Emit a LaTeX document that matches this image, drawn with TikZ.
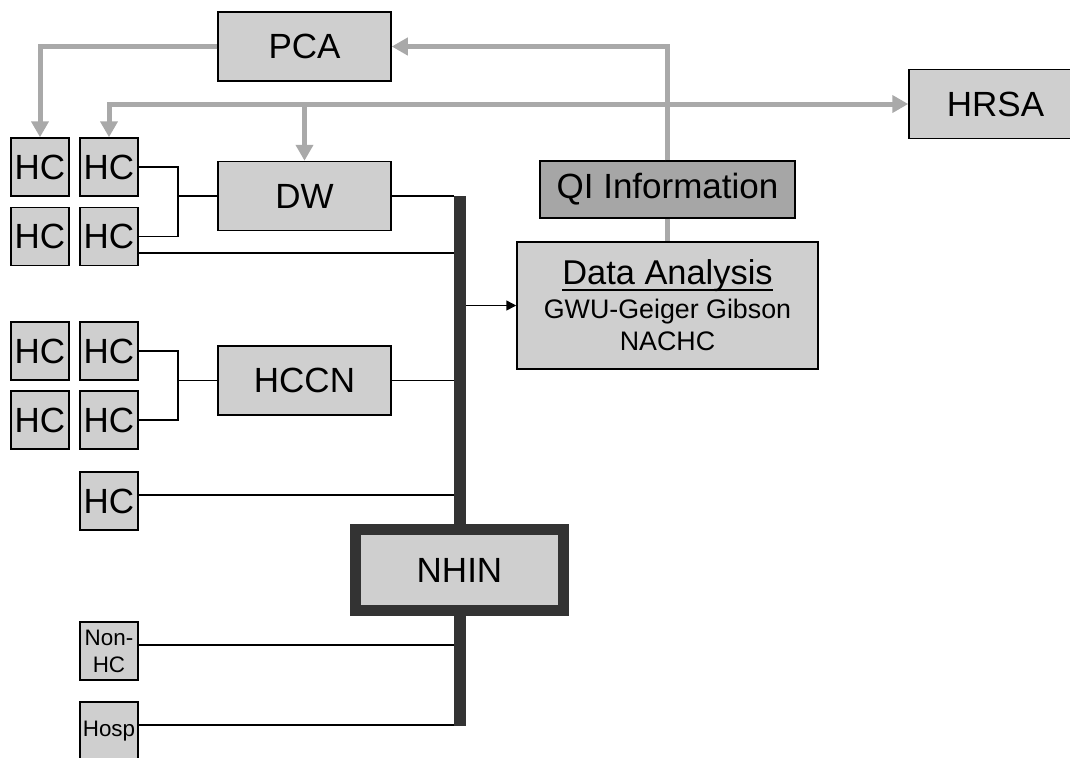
\documentclass[tikz,border=0pt]{standalone}
\usepackage{fontspec}
\setmainfont{Liberation Sans}
\usetikzlibrary{arrows.meta}
\definecolor{boxgray}{HTML}{CFCFCF}
\definecolor{qigray}{HTML}{A6A6A6}
\definecolor{linkgray}{HTML}{A9A9A9}
\definecolor{busgray}{HTML}{333333}
\newcommand\ulined[1]{\setbox0\hbox{#1}\rlap{\rule[-3pt]{\wd0}{0.75pt}}\box0}
\begin{document}
\begin{tikzpicture}[x=0.5pt, y=-0.5pt, >={Triangle[length=8pt,width=8.5pt]},
    box/.style={draw, line width=0.75pt, fill=boxgray, inner sep=0pt, font=\fontsize{17.5}{21}\selectfont},
    hc/.style={box, minimum width=29pt, minimum height=29pt},
    wide/.style={box, minimum width=86.5pt, minimum height=34.5pt},
    small/.style={box, minimum width=29pt, minimum height=29pt, align=center, font=\fontsize{11.2}{13.5}\selectfont},
    glink/.style={draw=linkgray, line width=2.5pt},
    link/.style={draw, line width=0.75pt}]
  \useasboundingbox (0,0) rectangle (1070,757);
  \clip (0,0) rectangle (1070,757);
  \node[wide] (pca) at (304.5,46.5) {PCA};
  \node[wide] (dw) at (304.5,196) {DW};
  \node[wide] (hccn) at (304.5,380.5) {HCCN};
  \node[wide] (hrsa) at (995.5,104) {HRSA};
  \node[box, fill=qigray, minimum width=127.5pt, minimum height=28.5pt] (qi) at (667.5,189.5) {QI Information};
  \node[box, minimum width=150.5pt, minimum height=63.5pt, align=center, font=\fontsize{13.4}{16}\selectfont] (da) at (667.5,305.5)
    {{\fontsize{17.2}{19}\selectfont\ulined{Data Analysis}}\\[1pt]GWU-Geiger Gibson\\NACHC};
  \foreach \n/\x/\y in {hca/40/167, hcb/109/167, hcc/40/236.5, hcd/109/236.5, hce/40/351,
      hcf/109/351, hcg/40/420, hch/109/420, hci/109/501}
    \node[hc] (\n) at (\x,\y) {HC};
  \node[small] (nonhc) at (109,651) {Non-\\HC};
  \node[small] (hosp) at (109,731) {Hosp};
  \node[fill=busgray, inner sep=0pt, minimum width=6pt, minimum height=265pt] (bus) at (460,461) {};
  \node[box, draw=busgray, line width=5.5pt, minimum width=104pt, minimum height=40.5pt] (nhin) at (459.5,570) {NHIN};
  \coordinate (dwj) at (178,196);
  \coordinate (hccnj) at (178,380.5);
  \draw[link] (hcb.east) -| (dwj) |- (hcd.east);
  \draw[link] (dwj) -- (dw.west);
  \draw[link] (dw.east) -- (dw.east -| bus.west);
  \draw[link] (hcf.east) -| (hccnj) |- (hch.east);
  \draw[link] (hccnj) -- (hccn.west);
  \draw[link] (hccn.east) -- (hccn.east -| bus.west);
  \foreach \n/\s in {hcd/-8.25, hci/3, nonhc/3, hosp/3} {
    \coordinate (out) at ([yshift=\s pt]\n.east);
    \draw[link] (out) -- (out -| bus.west);
  }
  \draw[link, -{Triangle[length=5pt,width=5pt]}] (bus.east |- da.west) -- (da.west);
  \draw[glink, ->] (pca.west) -| (hca.north);
  \draw[glink, ->] (qi.north) |- (pca.east);
  \draw[glink, <->] (hcb.north) |- (hrsa.west);
  \draw[glink, ->] (dw.north |- hrsa.west) -- (dw.north);
  \draw[glink] (qi.south) -- (da.north);
\end{tikzpicture}
\end{document}
